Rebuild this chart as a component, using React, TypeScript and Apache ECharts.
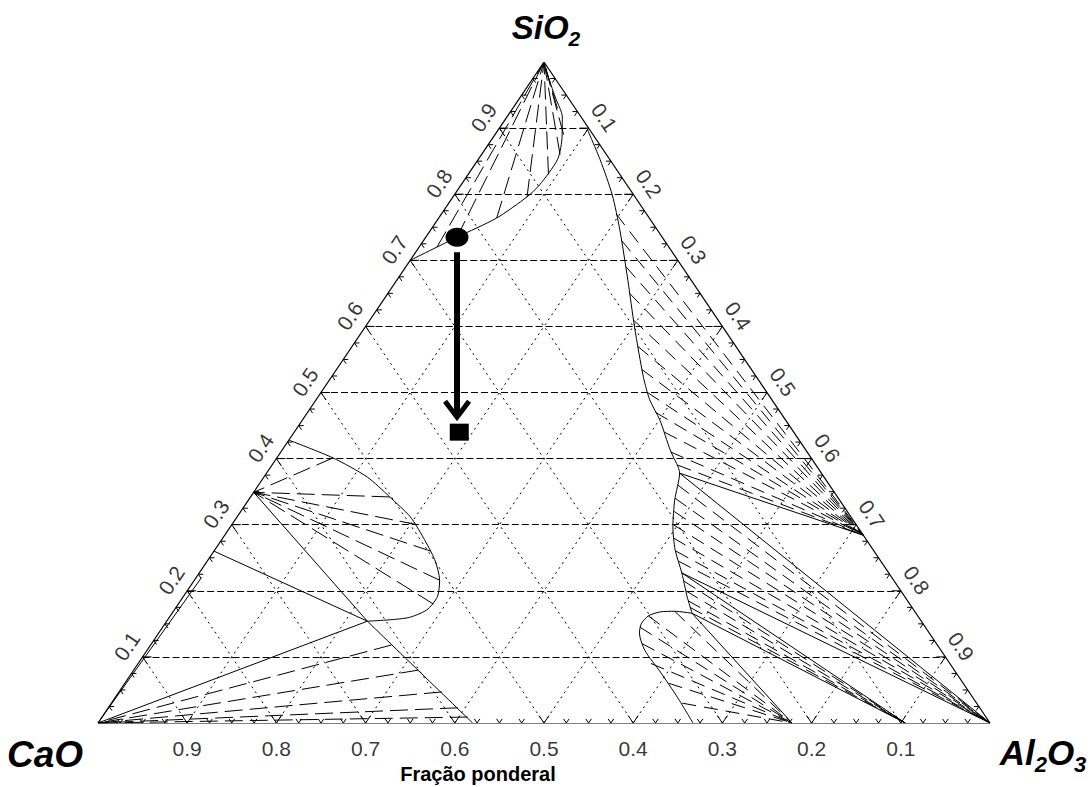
import React, { useEffect, useRef } from "react";
import * as echarts from "echarts";

// Every composition is [SiO2, Al2O3] mass fraction; CaO = 1 - SiO2 - Al2O3.
const majorTicks = [0.1, 0.2, 0.3, 0.4, 0.5, 0.6, 0.7, 0.8, 0.9];
const tickStep = 0.025;
const bottomLabels = ["0.9", "0.8", "0.7", "0.6", "0.5", "0.4", "0.3", "0.2", "0.1"]; // CaO
const leftLabels = ["0.1", "0.2", "0.3", "0.4", "0.5", "0.6", "0.7", "0.8", "0.9"]; // SiO2
const rightLabels = ["0.1", "0.2", "0.3", "0.4", "0.5", "0.6", "0.7", "0.8", "0.9"]; // Al2O3

// solid phases
const SIO2 = [1, 0];
const CAO = [0, 0];
const AL2O3 = [0, 1];
const MULLITE = [0.284, 0.716];
const CA6 = [0, 0.905];
const CA2 = [0, 0.778];
const C2S = [0.349, 0];
const C3S = [0.26, 0];

// liquidus boundaries
const silicaLiquidus = [[0.700, 0.000], [0.735, 0.035], [0.764, 0.065], [0.796, 0.083], [0.814, 0.088], [0.852, 0.089], [0.882, 0.079], [0.917, 0.062], [0.947, 0.039], [0.983, 0.012], [1.0, 0.0]];
const aluminaLiquidus = [[0.900, 0.098], [0.852, 0.137], [0.799, 0.177], [0.746, 0.212], [0.670, 0.259], [0.599, 0.302], [0.523, 0.350], [0.489, 0.374], [0.458, 0.401], [0.413, 0.435], [0.387, 0.457], [0.378, 0.463], [0.337, 0.478], [0.297, 0.496], [0.262, 0.516], [0.227, 0.541], [0.191, 0.565], [0.166, 0.583]];
const ca2Liquidus = [[0.166, 0.583], [0.169, 0.562], [0.168, 0.546], [0.162, 0.536], [0.150, 0.534], [0.136, 0.539], [0.110, 0.558], [0.077, 0.592], [0.038, 0.631], [0.000, 0.667]];
const c2sLiquidus = [[0.428, 0.000], [0.401, 0.063], [0.372, 0.116], [0.342, 0.156], [0.312, 0.194], [0.281, 0.224], [0.247, 0.254], [0.216, 0.275], [0.191, 0.285], [0.171, 0.283], [0.159, 0.267], [0.154, 0.225]];
const limeLiquidus = [[0.154, 0.225], [0.000, 0.420]];

// liquid ends of the tie lines (dashed)
const silicaTies = [[0.72, 0.02], [0.735, 0.035], [0.764, 0.065], [0.796, 0.083], [0.83, 0.09], [0.86, 0.088], [0.89, 0.077], [0.93, 0.05]];
const mulliteTies = [[0.77, 0.196], [0.73, 0.222], [0.69, 0.247], [0.65, 0.271], [0.61, 0.295], [0.57, 0.32], [0.535, 0.342], [0.5, 0.366], [0.47, 0.39], [0.44, 0.415], [0.41, 0.437], [0.39, 0.455]];
const corundumTies = [[0.36, 0.47], [0.34, 0.477], [0.32, 0.486], [0.3, 0.495], [0.28, 0.505], [0.26, 0.518], [0.245, 0.528]];
const ca6Ties = [[0.215, 0.549], [0.2, 0.559], [0.185, 0.569], [0.175, 0.576]];
const ca2Ties = [[0.169, 0.562], [0.162, 0.536], [0.145, 0.535], [0.12, 0.55], [0.09, 0.575], [0.06, 0.61], [0.03, 0.64]];
const c2sTies = [[0.401, 0.063], [0.342, 0.156], [0.3, 0.208], [0.26, 0.243], [0.216, 0.275], [0.18, 0.286]];
const limeTies = [[0.118, 0.27], [0.08, 0.319], [0.047, 0.362], [0.023, 0.392], [0.009, 0.41]];

// three-phase triangle edges (solid)
const liqMullCor = [0.378, 0.463];
const liqCorCa6 = [0.227, 0.541];
const liqCa6Ca2 = [0.166, 0.583];
const liqC2sC3s = [0.154, 0.225];
const limeEdge = [0.22, 0.006];

// composition path
const startPoint = [0.735, 0.035];
const endPoint = [0.44, 0.185];

const toXY = (p: number[]) => [p[1] + p[0] / 2, p[0]];
const seg = (p: number[], q: number[]) => ({ coords: [toXY(p), toXY(q)] });
const FONT = '"Liberation Sans", Arial, sans-serif';

export default function App() {
  const ref = useRef<HTMLDivElement>(null);
  useEffect(() => {
    if (!ref.current) return;
    const chart = echarts.init(ref.current, undefined, { renderer: "svg" });

    const gridH = majorTicks.map((s) => seg([s, 0], [s, 1 - s]));
    const gridD = majorTicks.flatMap((v) => [seg([0, v], [1 - v, v]), seg([0, 1 - v], [1 - v, 0])]);
    const outline = [seg(CAO, AL2O3), seg(AL2O3, SIO2), seg(SIO2, CAO)];

    const tickData: number[][] = [];
    for (let i = 1; i < Math.round(1 / tickStep); i++) {
      const t = i * tickStep;
      const major = i % 4 === 0 ? 1 : 0;
      const pts = [[0, t], [t, 0], [1 - t, t]];
      pts.forEach((p, e) => {
        const xy = toXY(p);
        tickData.push([xy[0], xy[1], e, major]);
      });
    }

    const longDashTies = [
      ...silicaTies.map((p) => seg(p, SIO2)),
      ...c2sTies.map((p) => seg(p, C2S)),
      ...limeTies.map((p) => seg(p, CAO)),
    ];
    const shortDashTies = [
      ...mulliteTies.map((p) => seg(p, MULLITE)),
      ...corundumTies.map((p) => seg(p, AL2O3)),
      ...ca6Ties.map((p) => seg(p, CA6)),
      ...ca2Ties.map((p) => seg(p, CA2)),
    ];
    const solidTies = [
      seg(liqMullCor, MULLITE), seg(liqMullCor, AL2O3),
      seg(liqCorCa6, AL2O3), seg(liqCorCa6, CA6),
      seg(liqCa6Ca2, CA6), seg(liqCa6Ca2, CA2),
      seg(liqC2sC3s, C2S), seg(liqC2sC3s, C3S), seg(liqC2sC3s, CAO),
      seg(CAO, limeEdge),
    ];

    const curve = (d: number[][]) => ({
      type: "line", data: d.map(toXY), symbol: "none", smooth: 0.25, z: 4,
      lineStyle: { color: "#000", width: 1 }, silent: true,
    });
    const linesSeries = (data: any[], type: any, width = 1, z = 2) => ({
      type: "lines", coordinateSystem: "cartesian2d", data, z, silent: true,
      lineStyle: { color: "#000", width, type, opacity: 1 },
    });
    const labelSeries = (labels: string[], pos: (i: number) => number[], rotate: number, offset: number[]) => ({
      type: "scatter", symbolSize: 1, itemStyle: { color: "rgba(0,0,0,0)" }, silent: true, z: 6,
      data: labels.map((l, i) => ({ name: l, value: toXY(pos(i)) })),
      label: { show: true, formatter: "{b}", position: "inside", rotate, offset, fontSize: 21, fontFamily: FONT, color: "#000" },
    });

    // vertex labels with subscripts
    const ctx = document.createElement("canvas").getContext("2d")!;
    const formula = (parts: [string, boolean][], cx: number, cy: number, mainSize: number, subSize: number, drop: number) => {
      const measure = (t: string, size: number) => {
        ctx.font = `italic bold ${size}px ${FONT}`;
        return ctx.measureText(t).width;
      };
      const widths = parts.map(([t, sub]) => measure(t, sub ? subSize : mainSize));
      const total = widths.reduce((a, b) => a + b, 0);
      let x = cx - total / 2;
      return parts.map(([t, sub], i) => {
        const el = {
          type: "text", x, y: sub ? cy + drop : cy,
          style: { text: t, fontSize: sub ? subSize : mainSize, fontWeight: "bold", fontStyle: "italic", fontFamily: FONT, fill: "#000", align: "left", verticalAlign: "middle" },
        };
        x += widths[i];
        return el;
      });
    };

    chart.setOption({
      animation: false,
      backgroundColor: "#fff",
      grid: { left: 98, right: 102, top: 62, bottom: 64 },
      xAxis: { type: "value", min: 0, max: 1, show: false },
      yAxis: { type: "value", min: 0, max: 1, show: false },
      series: [
        linesSeries(gridH, [7, 3], 1, 1),
        linesSeries(gridD, [2, 4], 1, 1),
        linesSeries(outline, "solid", 1.2, 5),
        {
          type: "custom", coordinateSystem: "cartesian2d", data: tickData, z: 5, silent: true, clip: false,
          renderItem: (params: any, api: any) => {
            const p = api.coord([api.value(0), api.value(1)]);
            const edge = api.value(2);
            const L = api.value(3) ? 9 : 5;
            const C = api.coord([0, 0]), A = api.coord([1, 0]), S = api.coord([0.5, 1]);
            const unit = (f: number[], t: number[]) => {
              const dx = t[0] - f[0], dy = t[1] - f[1];
              const l = Math.hypot(dx, dy);
              return [dx / l, dy / l];
            };
            let d1, d2;
            if (edge === 0) { d1 = unit(C, S); d2 = unit(A, S); }
            else if (edge === 1) { d1 = unit(C, A); d2 = unit(S, A); }
            else { d1 = unit(A, C); d2 = unit(S, C); }
            return {
              type: "polyline",
              shape: { points: [[p[0] + d1[0] * L, p[1] + d1[1] * L], p, [p[0] + d2[0] * L, p[1] + d2[1] * L]] },
              style: { stroke: "#000", fill: "none", lineWidth: 1 },
            };
          },
        },
        linesSeries(longDashTies, [18, 7], 1, 3),
        linesSeries(shortDashTies, [14, 8], 1, 3),
        linesSeries(solidTies, "solid", 1, 3),
        curve(silicaLiquidus),
        curve(aluminaLiquidus),
        curve(ca2Liquidus),
        curve(c2sLiquidus),
        curve(limeLiquidus),
        labelSeries(bottomLabels, (i) => [0, 0.1 * (i + 1)], 0, [0, 25]),
        labelSeries(leftLabels, (i) => [0.1 * (i + 1), 0], 56, [0, -19]),
        labelSeries(rightLabels, (i) => [1 - 0.1 * (i + 1), 0.1 * (i + 1)], -56, [0, -19]),
        {
          type: "scatter", data: [toXY(startPoint)], symbol: "circle", symbolSize: [23, 19], z: 8,
          itemStyle: { color: "#000", opacity: 1 }, silent: true,
        },
        {
          type: "scatter", data: [toXY(endPoint)], symbol: "rect", symbolSize: [19, 17], z: 8,
          itemStyle: { color: "#000", opacity: 1 }, silent: true,
        },
        {
          type: "custom", coordinateSystem: "cartesian2d", z: 9, silent: true, clip: false,
          data: [[...toXY(startPoint), ...toXY(endPoint)]],
          renderItem: (params: any, api: any) => {
            const p1 = api.coord([api.value(0), api.value(1)]);
            const p2 = api.coord([api.value(2), api.value(3)]);
            const x = p1[0];
            const y1 = p1[1] + 15;
            const tip = p2[1] - 15;
            return {
              type: "group",
              children: [
                { type: "line", shape: { x1: x, y1, x2: x, y2: tip - 3 }, style: { stroke: "#000", lineWidth: 6 } },
                { type: "polyline", shape: { points: [[x - 12, tip - 16], [x, tip], [x + 12, tip - 16]] }, style: { stroke: "#000", fill: "none", lineWidth: 5 } },
              ],
            };
          },
        },
      ],
      graphic: [
        ...formula([["SiO", false], ["2", true]], 546, 27, 33, 21, 11),
        ...formula([["CaO", false]], 45, 754, 37, 21, 11),
        ...formula([["Al", false], ["2", true], ["O", false], ["3", true]], 1043, 752, 35, 22, 12),
        {
          type: "text", x: 478, y: 774,
          style: { text: "Fração ponderal", fontSize: 20, fontWeight: "bold", fontFamily: FONT, fill: "#000", align: "center", verticalAlign: "middle" },
        },
      ],
    });
    return () => chart.dispose();
  }, []);
  return <div ref={ref} style={{ position: "absolute", left: 0, top: 0, width: 1092, height: 787, background: "#fff" }} />;
}
